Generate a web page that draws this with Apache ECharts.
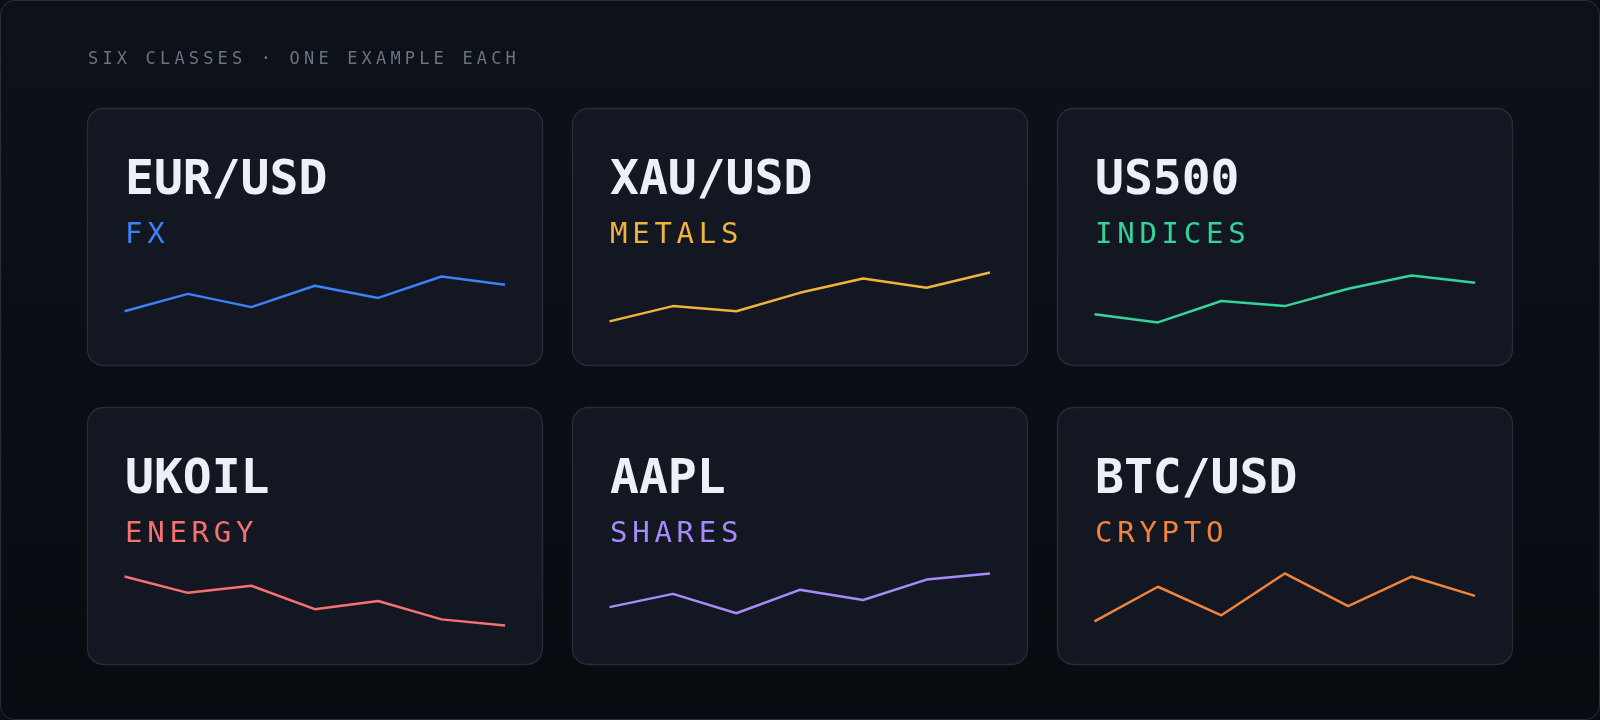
<!DOCTYPE html>
<html><head><meta charset="utf-8">
<script src="https://cdn.jsdelivr.net/npm/echarts@6/dist/echarts.min.js"></script>
<style>html,body{margin:0;padding:0;background:#0a0d13;}#c{width:1600px;height:720px;}</style>
</head><body><div id="c"></div>
<script>
const heading = "SIX CLASSES · ONE EXAMPLE EACH";
const symbols = ["EUR/USD","XAU/USD","US500","UKOIL","AAPL","BTC/USD"];
const classes = ["FX","METALS","INDICES","ENERGY","SHARES","CRYPTO"];
const colors = ["#3b82f6","#f0b33e","#34d399","#f87171","#a78bfa","#f0843c"];
const steps = ["1","2","3","4","5","6","7"];
const eurusd = [20,37,24,45,33,54,46];
const xauusd = [10,25,20,38,52,43,58];
const us500  = [17,9,30,25,42,55,48];
const ukoil  = [53,37,44,21,29,11,5];
const aapl   = [23,36,17,40,30,50,56];
const btcusd = [9,43,15,56,24,53,34];
const seriesData = [eurusd,xauusd,us500,ukoil,aapl,btcusd];

const chart = echarts.init(document.getElementById('c'));
const cardX=[87,572,1057], cardY=[108,407], cw=455, ch=257;
const graphic=[], grid=[], xAxis=[], yAxis=[], series=[];
graphic.push({type:'rect',shape:{x:0.5,y:0.5,width:1599,height:719,r:14},
  style:{fill:new echarts.graphic.LinearGradient(0,0,0,1,[{offset:0,color:'#0d1119'},{offset:1,color:'#080b10'}]),stroke:'#2a303b',lineWidth:1},z:-10});
function spaced(str,x,y,size,step,color,weight){
  for(let i=0;i<str.length;i++){
    graphic.push({type:'text',x:x+i*step,y:y,style:{text:str[i],fill:color,font:(weight||'normal')+' '+size+'px "DejaVu Sans Mono"',textVerticalAlign:'top'},z:5});
  }
}
spaced(heading,88,51,17,14.4,'#6b7280');
for(let k=0;k<6;k++){
  const cx=cardX[k%3], cy=cardY[Math.floor(k/3)];
  graphic.push({type:'rect',shape:{x:cx+0.5,y:cy+0.5,width:cw,height:ch,r:16},style:{fill:'#121722',stroke:'#272e3a',lineWidth:1.3},z:1});
  graphic.push({type:'text',x:cx+38,y:cy+50,style:{text:symbols[k],fill:'#eef0f7',font:'bold 48px "DejaVu Sans Mono"',textVerticalAlign:'top'},z:5});
  spaced(classes[k],cx+38,cy+113,29,22.2,colors[k]);
  grid.push({left:cx+37.5,width:380.5,top:cy+162.4,height:61.2});
  xAxis.push({type:'category',gridIndex:k,data:steps,boundaryGap:false,show:false});
  yAxis.push({type:'value',gridIndex:k,min:0,max:60,show:false});
  series.push({type:'line',xAxisIndex:k,yAxisIndex:k,data:seriesData[k],showSymbol:false,lineStyle:{color:colors[k],width:2.5},z:10,silent:true});
}
chart.setOption({backgroundColor:'#0a0d13',animation:false,graphic:graphic,grid:grid,xAxis:xAxis,yAxis:yAxis,series:series});
</script></body></html>
